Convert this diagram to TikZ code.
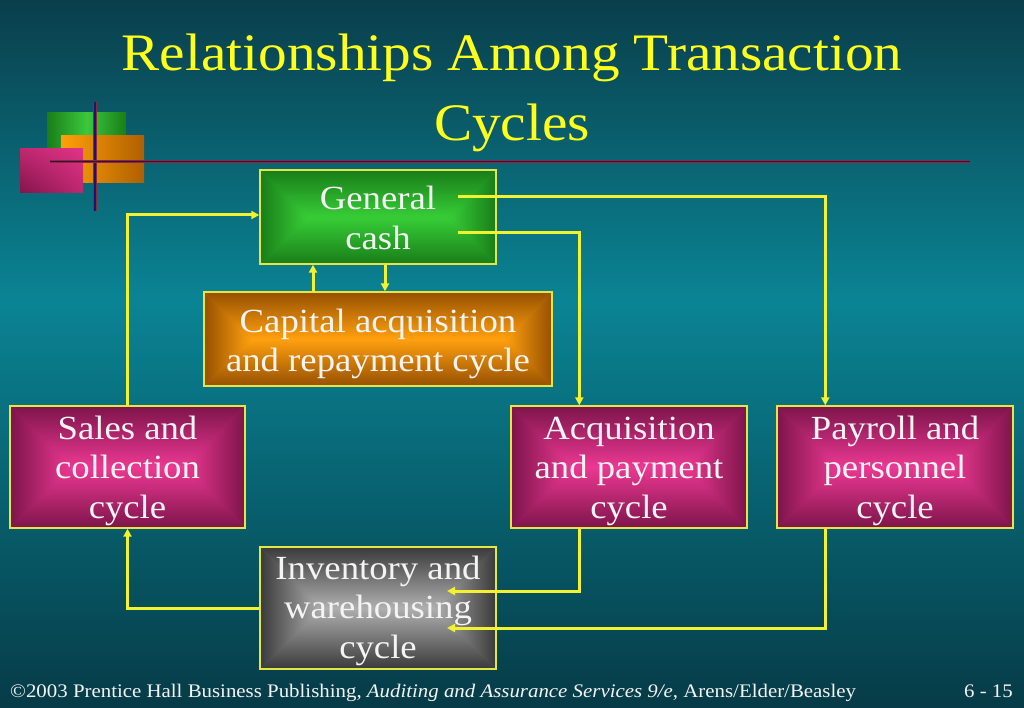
\documentclass[tikz,border=0pt]{standalone}
\usepackage{fontspec}
\setmainfont[FakeStretch=1.087]{Liberation Serif}
\usetikzlibrary{arrows.meta,calc,shadings}
\definecolor{bgtop}{HTML}{0A3E4B}
\definecolor{bgmid}{HTML}{0A8494}
\definecolor{bgbot}{HTML}{063B47}
\definecolor{ttl}{HTML}{FFFF1A}
\definecolor{con}{HTML}{F2F232}
\definecolor{bord}{HTML}{E6E640}
\definecolor{txt}{HTML}{F4F4F4}
\definecolor{gin}{RGB}{55,205,55}
\definecolor{gout}{RGB}{25,125,25}
\definecolor{oin}{RGB}{255,160,15}
\definecolor{oout}{RGB}{150,80,0}
\definecolor{min}{RGB}{236,56,146}
\definecolor{mout}{RGB}{125,20,75}
\definecolor{kin}{RGB}{175,175,175}
\definecolor{kout}{RGB}{58,58,58}
\definecolor{lgmid}{RGB}{60,200,60}
\definecolor{lol}{RGB}{255,160,10}
\definecolor{lor}{RGB}{175,95,0}
\definecolor{lmll}{RGB}{130,20,75}
\definecolor{lmur}{RGB}{225,50,135}
\definecolor{lmx}{RGB}{190,40,110}
\definecolor{redge}{RGB}{140,40,60}
\definecolor{navy}{RGB}{30,20,110}
\definecolor{plum}{RGB}{55,15,70}
\newcommand{\tstrut}[1]{\rule{0pt}{#1}}
\tikzset{
  glow/.style n args={3}{path picture={
    \coordinate (gnw) at (path picture bounding box.north west);
    \coordinate (gne) at (path picture bounding box.north east);
    \coordinate (gsw) at (path picture bounding box.south west);
    \coordinate (gse) at (path picture bounding box.south east);
    \coordinate (gl) at ([xshift=#3pt]path picture bounding box.west);
    \coordinate (gr) at ([xshift=-#3pt]path picture bounding box.east);
    \fill[#2!55!#1] (gsw) rectangle (gne);
    \shade[top color=#2, bottom color=#1] (gnw) -- (gne) -- (gr) -- (gl) -- cycle;
    \shade[top color=#1, bottom color=#2] (gsw) -- (gse) -- (gr) -- (gl) -- cycle;
    \shade[left color=#2, right color=#1] (gnw) -- (gl) -- (gsw) -- cycle;
    \shade[left color=#1, right color=#2] (gne) -- (gr) -- (gse) -- cycle;
  }},
  cyc/.style={draw=bord, line width=1.4pt, inner sep=0pt, align=center,
    text=txt, font=\fontsize{33.8}{39.5}\selectfont},
  greenbox/.style={cyc, glow={gin}{gout}{47}},
  orangebox/.style={cyc, glow={oin}{oout}{47}},
  magbox/.style={cyc, glow={min}{mout}{61}},
  graybox/.style={cyc, glow={kin}{kout}{61}},
  link/.style={draw=con, line width=3pt, -{Triangle[length=8pt,width=8pt]}},
}
\begin{document}
\begin{tikzpicture}[x=1pt,y=-1pt]
% background
\useasboundingbox (0,0) rectangle (1024,708);
\shade[top color=bgtop, bottom color=bgmid] (0,0) rectangle (1024,300);
\shade[top color=bgmid, bottom color=bgbot] (0,299.5) rectangle (1024,708);

% logo
\shade[left color=gout, right color=gout, middle color=lgmid] (47,113) rectangle (126,150);
\shade[left color=lol, right color=lor] (61,136) rectangle (144,183);
\shade[lower left=lmll, upper right=lmur, lower right=lmx, upper left=lmx] (20,149) rectangle (83,193);
\draw[line width=3.2pt, redge] (95,102) -- (95,211);
\draw[line width=1.6pt, navy] (95,102) -- (95,211);
\draw[line width=3.2pt, redge] (50,161.5) -- (970,161.5);
\draw[line width=1.4pt, plum] (50,161.5) -- (970,161.5);

% title
\node[text=ttl, align=center, font=\fontsize{52.7}{70}\selectfont] (title) at (512,93) {Relationships Among Transaction\\Cycles};

% boxes
\node[greenbox, minimum width=236pt, minimum height=94pt] (gc) at (378,217) {\tstrut{25pt}General\\cash};
\node[orangebox, minimum width=348pt, minimum height=94pt] (cap) at (378,339) {\tstrut{33pt}Capital acquisition\\and repayment cycle};
\node[magbox, minimum width=235pt, minimum height=122pt] (sales) at (127.5,467) {\tstrut{31pt}Sales and\\collection\\cycle};
\node[magbox, minimum width=236pt, minimum height=122pt] (acq) at (629,467) {\tstrut{31pt}Acquisition\\and payment\\cycle};
\node[magbox, minimum width=236pt, minimum height=122pt] (pay) at (895,467) {\tstrut{31pt}Payroll and\\personnel\\cycle};
\node[graybox, minimum width=236pt, minimum height=122pt] (inv) at (378,608) {\tstrut{29pt}Inventory and\\warehousing\\cycle};

% connectors
\draw[link] (sales.north) |- ([yshift=2pt]gc.west);
\draw[link] ([shift={(80,-20)}]gc.center) -| ([xshift=49pt]pay.north west);
\draw[link] ([shift={(80,16)}]gc.center) -| ([xshift=69pt]acq.north west);
\draw[link] ([xshift=-65pt]cap.north) -- ([xshift=-65pt]gc.south);
\draw[link] ([xshift=7pt]gc.south) -- ([xshift=7pt]cap.north);
\draw[link] ([xshift=69pt]acq.south west) |- ([shift={(69,-17)}]inv.center);
\draw[link] ([xshift=49pt]pay.south west) |- ([shift={(69,20)}]inv.center);
\draw[link] (inv.west) -| (sales.south);

% footer
\node[anchor=base west, text=txt, font=\fontsize{19.2}{20}\selectfont, inner sep=0pt] (foot) at (10,697) {©2003 Prentice Hall Business Publishing, \textit{Auditing and Assurance Services 9/e}, Arens/Elder/Beasley};
\node[anchor=base east, text=txt, font=\fontsize{19.2}{20}\selectfont, inner sep=0pt] (page) at (1013,697) {6 - 15};
\end{tikzpicture}
\end{document}
